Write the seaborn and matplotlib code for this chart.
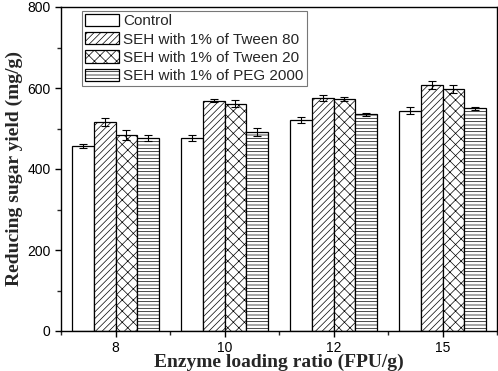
import numpy as np
import pandas as pd
import matplotlib
matplotlib.use('Agg')
import matplotlib.pyplot as plt
import seaborn as sns
from matplotlib.ticker import FixedLocator, MultipleLocator

# Values
ratios = ['8', '10', '12', '15']
treatments = ['Control', 'SEH with 1% of Tween 80',
              'SEH with 1% of Tween 20', 'SEH with 1% of PEG 2000']
control = [457, 477, 521, 544]
tween80 = [516, 569, 575, 607]
tween20 = [484, 561, 572, 597]
peg2000 = [476, 491, 535, 550]
control_err = [4, 8, 7, 8]
tween80_err = [9, 4, 7, 10]
tween20_err = [12, 9, 5, 10]
peg2000_err = [8, 10, 3, 4]

hatches = ['', '/////', 'xxx', '-----']


def main():
    series = [control, tween80, tween20, peg2000]
    errs = [control_err, tween80_err, tween20_err, peg2000_err]
    rows = []
    for name, vals in zip(treatments, series):
        for r, v in zip(ratios, vals):
            rows.append({'ratio': r, 'yield': v, 'treatment': name})
    df = pd.DataFrame(rows)

    sns.set_style('ticks')
    plt.rcParams['font.family'] = ['Liberation Sans', 'DejaVu Sans']
    plt.rcParams['hatch.linewidth'] = 0.5
    plt.rcParams['axes.linewidth'] = 1.0

    fig = plt.figure(figsize=(4.98, 3.71), dpi=100)
    ax = fig.add_axes([61 / 498, 1 - 331 / 371, 436 / 498, 324 / 371])

    sns.barplot(data=df, x='ratio', y='yield', hue='treatment',
                order=ratios, hue_order=treatments,
                palette={t: 'white' for t in treatments}, saturation=1,
                edgecolor='black', linewidth=0.9, errorbar=None,
                width=0.8, legend=False, ax=ax)

    for cont, h, err in zip(ax.containers, hatches, errs):
        for bar in cont:
            bar.set_hatch(h)
        xs = [b.get_x() + b.get_width() / 2 for b in cont]
        ys = [b.get_height() for b in cont]
        ax.errorbar(xs, ys, yerr=err, fmt='none', ecolor='black',
                    elinewidth=0.8, capsize=3, capthick=0.8)

    ax.set_ylim(0, 800)
    ax.set_xlim(-0.5, 3.5)
    ax.yaxis.set_major_locator(MultipleLocator(200))
    ax.yaxis.set_minor_locator(MultipleLocator(100))
    ax.xaxis.set_minor_locator(FixedLocator([-0.5, 0.5, 1.5, 2.5, 3.5]))
    ax.tick_params(axis='both', which='major', direction='out', length=4,
                   width=1, labelsize=10, colors='black')
    ax.tick_params(axis='both', which='minor', direction='out', length=3, width=1)
    for sp in ax.spines.values():
        sp.set_visible(True)
        sp.set_color('black')

    lab_font = dict(family=['Liberation Serif', 'DejaVu Serif'],
                    weight='bold', size=14)
    ax.set_xlabel('Enzyme loading ratio (FPU/g)', fontdict=lab_font, labelpad=-1)
    ax.set_ylabel('Reducing sugar yield (mg/g)', fontdict=lab_font, labelpad=3)

    leg = ax.legend(ax.containers, treatments, loc='upper left',
                    bbox_to_anchor=(21 / 436, 1 - 4 / 324), fontsize=11,
                    handlelength=2.2, handleheight=0.85, labelspacing=0.25,
                    borderpad=0.2, handletextpad=0.3, borderaxespad=0,
                    frameon=True, fancybox=False, edgecolor='#555555')
    leg.get_frame().set_linewidth(0.8)

    fig.savefig('out.png', dpi=100)
    plt.close(fig)


if __name__ == '__main__':
    main()
